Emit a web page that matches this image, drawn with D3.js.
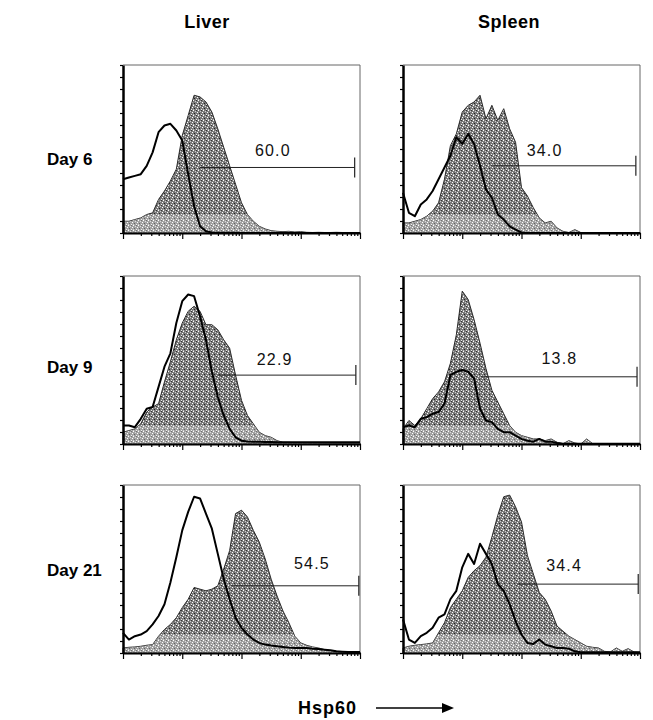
<!DOCTYPE html>
<html>
<head>
<meta charset="utf-8">
<script src="https://cdn.jsdelivr.net/npm/d3@7"></script>
<style>
  body { margin: 0; background: #fff; }
  #viz { width: 653px; height: 720px; }
  text { font-family: "Liberation Sans", Arial, sans-serif; }
</style>
</head>
<body>
<div id="viz"></div>
<script>
// bins in log10 units (0 .. 4 decades, 0.1 step)
const binLog = d3.range(0, 4.05, 0.1);

const organs = ["Liver", "Spleen"];
const days = ["Day 6", "Day 9", "Day 21"];

// grey filled histograms (Hsp60 stain), relative counts 0-100
const liverD6Fill = [7,7,8,9,11,12,20,25,31,38, 58,70,82,81,78,72,62,51,40,29, 18,11,7,4,2.4,1.4,1,0.8,1,0.6, 0.8,0.4,0.3,0.4,0.3,0.3,0.4,0.3,0.3,0.3,0.3];
const spleenD6Fill = [6,6,7,8,10,13,18,32,52,59, 72,76,78,82,68,76,67,74,62,54, 27,22,15,9,6,7,3,1,0.3,2, 0.3,0.2,0.2,0.2,0.2,0.2,0.2,0.2,0.2,0.2,0.2];
const liverD9Fill = [7,8,9,12,19,22,24,37,49,62, 72,79,82,79,71,71,68,62,57,41, 26,17,12,7,5,4,2,1,1,0.8, 0.8,0.6,0.6,0.6,0.5,0.5,0.5,0.5,0.5,0.5,0.5];
const spleenD9Fill = [9,14,11,15,21,27,31,37,48,65, 91,86,74,60,45,32,25,18,11,7, 5,4,3,3,2,3,1,0.2,2,0.6, 0,3,0.2,0.2,0.2,0.2,0.2,0.2,0.2,0.2,0.2];
const liverD21Fill = [3,3.4,3.6,4,4.6,5,10,14,17,21, 27,32,39,38,37,38,40,50,61,83, 85,81,73,66,56,44,34,25,18,10, 6,4.6,3.6,3,2,1.4,1,0.8,0.6,0.6,0.6];
const spleenD21Fill = [3,4,4.6,5,5.4,6,12,18,27,32, 37,45,49,52,57,69,82,93,94,87, 78,58,47,36,32,25,16,13,10,8, 6,4,3.4,3,1,0.6,3,1,2.6,0.6,0.4];

// open histograms (control)
const liverD6Open = [32,33,34,35,40,48,60,64,65,61, 55,35,16,4,1,0.3,0.2,0.2,0.2,0.2, 0,0,0,0,0,0,0,0,0,0, 0,0,0,0,0,0,0,0,0,0,0];
const spleenD6Open = [24,12,10,17,20,25,32,39,46,57, 53,59,53,40,26,21,11,8,4,2, 0.3,0,0,0,0,0,0,0,0,0, 0,0,0,0,0,0,0,0,0,0,0];
const liverD9Open = [11,11,10,15,21,22,34,46,54,72, 85,89,88,76,62,43,28,17,9,4, 2,1.5,1.4,1.3,1.2,1.2,1.1,1,1,1, 1,1,1,1,1,1,1,1,1,1,1];
const spleenD9Open = [10,11,10,15,16,18,19,24,41,43, 44,43,39,21,14,13,9,7,7,5, 3,2,1.4,3,1.4,1.4,0.6,0.2,0.2,0.2, 0.2,0.2,0.2,0.2,0.2,0.2,0.2,0.2,0.2,0.2,0.2];
const liverD21Open = [12,8,10,11,13,17,22,29,42,57, 73,84,93,92,83,74,59,44,32,21, 15,11,8,6,5,4.4,4,3.6,3.2,3, 3,3,2.6,2.4,2,1.6,1,0.8,0.6,0.6,0.6];
const spleenD21Open = [20,8,6,10,12,15,21,23,32,37, 51,59,53,65,59,53,41,37,29,19, 11,6,5.4,8,5,4,3,3,2.6,1, 0.4,0.4,0.4,0.4,0.4,0.4,0.4,0.4,0.4,0.4,0.4];

// marker gates (log10 units), gate height, percent positive
const gateStart = [1.30, 1.51, 1.60, 1.33, 1.84, 1.93];
const gateEnd = [3.91, 3.93, 3.93, 3.95, 3.98, 3.97];
const gateLevel = [39, 40, 41, 40, 40, 41];
const gatePct = ["60.0", "34.0", "22.9", "13.8", "54.5", "34.4"];

const fills = [liverD6Fill, spleenD6Fill, liverD9Fill, spleenD9Fill, liverD21Fill, spleenD21Fill];
const opens = [liverD6Open, spleenD6Open, liverD9Open, spleenD9Open, liverD21Open, spleenD21Open];

// layout
const colX = [123, 403];
const rowY = [65, 276, 485];
const PW = 237, PH = 168;
const labelAt = [2.53, 2.39, 2.56, 2.64, 3.19, 2.72];
const labelRise = [11, 10, 10, 13, 17, 13];
const titleX = [207, 509];
const rowBase = [165, 373, 576];

const svg = d3.select("#viz").append("svg")
    .attr("width", 653).attr("height", 720);

// stipple pattern for the filled histograms
const defs = svg.append("defs");
const pat = defs.append("pattern")
    .attr("id", "stip").attr("patternUnits", "userSpaceOnUse")
    .attr("width", 5).attr("height", 5);
pat.append("rect").attr("width", 5).attr("height", 5).attr("fill", "#7a7a7a");
[[0,0,"#fff"],[2,1,"#d0d0d0"],[4,2,"#fff"],[1,3,"#222"],[3,4,"#e8e8e8"],[3,0,"#333"],[0,4,"#bbb"]]
    .forEach(([px, py, c]) => pat.append("rect").attr("x", px).attr("y", py)
        .attr("width", 1).attr("height", 1).attr("fill", c));

const x = d3.scaleLog().domain([1, 1e4]).range([0, PW]);
const y = d3.scaleLinear().domain([0, 100]).range([PH, 0]);

const area = d3.area()
    .x((d, i) => x(Math.pow(10, binLog[i])))
    .y0(PH).y1(d => y(d));
const line = d3.line()
    .x((d, i) => x(Math.pow(10, binLog[i])))
    .y(d => y(d));

// tick values for log axis
const logTicks = [];
for (let e = 0; e < 4; e++) for (let m = 1; m < 10; m++) logTicks.push(m * Math.pow(10, e));
logTicks.push(1e4);

fills.forEach((fd, k) => {
    const r = Math.floor(k / 2), c = k % 2;
    const g = svg.append("g").attr("transform", `translate(${colX[c]},${rowY[r]})`);

    // frame (top/right thin)
    g.append("path")
        .attr("d", `M0,0H${PW}V${PH}`)
        .attr("fill", "none").attr("stroke", "#666").attr("stroke-width", 1);

    // filled histogram
    const clipId = "clip" + k;
    defs.append("clipPath").attr("id", clipId)
        .append("path").attr("d", area(fd));
    g.append("path").attr("d", area(fd))
        .attr("fill", "url(#stip)")
        .attr("stroke", "#2a2a2a").attr("stroke-width", 1);
    // lighter halftone near the baseline
    g.append("rect")
        .attr("x", 0).attr("y", y(11)).attr("width", PW).attr("height", PH - y(11))
        .attr("fill", "#fff").attr("opacity", 0.3)
        .attr("clip-path", `url(#${clipId})`);

    // gate
    const gy = y(gateLevel[k]);
    g.append("line")
        .attr("x1", x(Math.pow(10, gateStart[k]))).attr("x2", x(Math.pow(10, gateEnd[k])))
        .attr("y1", gy).attr("y2", gy)
        .attr("stroke", "#222").attr("stroke-width", 1);
    g.append("line")
        .attr("x1", x(Math.pow(10, gateEnd[k]))).attr("x2", x(Math.pow(10, gateEnd[k])))
        .attr("y1", gy - 10).attr("y2", gy + 10)
        .attr("stroke", "#222").attr("stroke-width", 1.2);

    // open histogram
    g.append("path").attr("d", line(opens[k]))
        .attr("fill", "none").attr("stroke", "#000")
        .attr("stroke-width", 2).attr("stroke-linejoin", "round");

    g.append("text")
        .attr("x", x(Math.pow(10, labelAt[k]))).attr("y", gy - labelRise[k])
        .attr("text-anchor", "middle")
        .attr("font-size", 16).attr("letter-spacing", 1.2)
        .attr("fill", "#111")
        .text(gatePct[k]);

    // x axis (log, decades longer)
    const xa = g.append("g").attr("transform", `translate(0,${PH})`)
        .call(d3.axisBottom(x).tickValues(logTicks).tickSize(3).tickSizeOuter(0).tickFormat(""));
    xa.select(".domain").attr("stroke", "#000").attr("stroke-width", 2);
    xa.selectAll(".tick line").attr("stroke", "#000").attr("stroke-width", 1.2)
        .attr("y2", d => (Math.log10(d) % 1 === 0 ? 6 : 3));

    // y axis
    const ya = g.append("g")
        .call(d3.axisLeft(y).tickValues(d3.range(0, 100.1, 100 / 14)).tickSize(3).tickSizeOuter(0).tickFormat(""));
    ya.select(".domain").attr("stroke", "#000").attr("stroke-width", 2.5);
    ya.selectAll(".tick line").attr("stroke", "#000").attr("stroke-width", 1.2);
});

// column titles
svg.selectAll(".coltitle").data(organs).join("text")
    .attr("x", (d, i) => titleX[i])
    .attr("y", 28)
    .attr("text-anchor", "middle")
    .attr("font-size", 18).attr("font-weight", "bold").attr("letter-spacing", 0.5)
    .text(d => d);

// row titles
svg.selectAll(".rowtitle").data(days).join("text")
    .attr("x", 47).attr("y", (d, i) => rowBase[i])
    .attr("font-size", 17).attr("font-weight", "bold")
    .text(d => d);

// axis caption
svg.append("text").attr("x", 298).attr("y", 714)
    .attr("font-size", 18).attr("font-weight", "bold").attr("letter-spacing", 1)
    .text("Hsp60");
svg.append("line").attr("x1", 376).attr("x2", 446).attr("y1", 708).attr("y2", 708)
    .attr("stroke", "#000").attr("stroke-width", 1.3);
svg.append("path").attr("d", "M454,708L442,703L442,713Z").attr("fill", "#000");
</script>
</body>
</html>
